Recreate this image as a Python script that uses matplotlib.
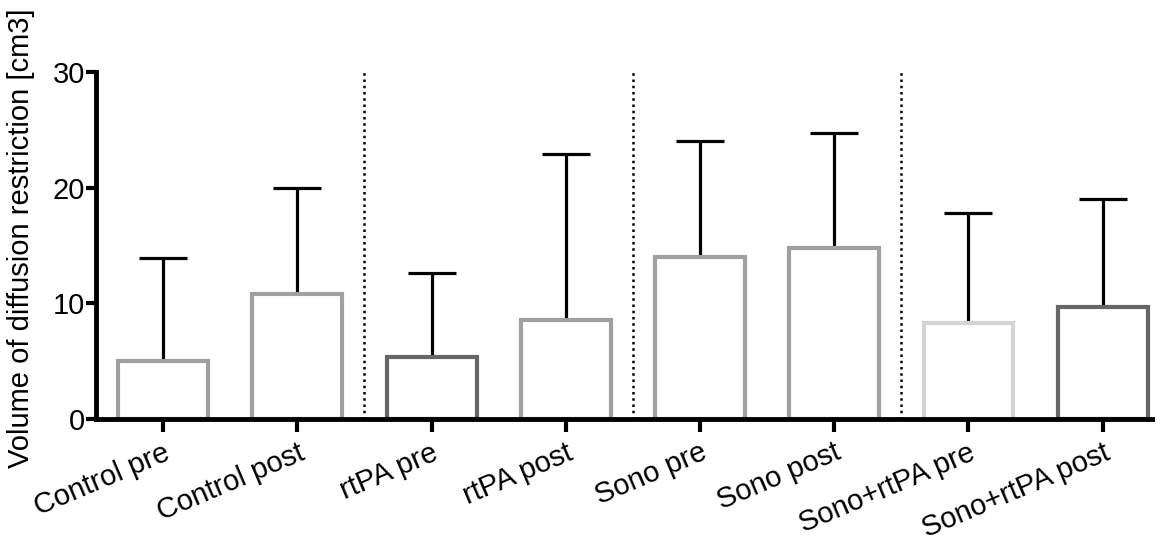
import matplotlib.pyplot as plt
import numpy as np

plt.rcParams['font.family'] = ['Liberation Sans', 'DejaVu Sans']

# --- データ ---
groups = ['Control pre', 'Control post', 'rtPA pre', 'rtPA post',
          'Sono pre', 'Sono post', 'Sono+rtPA pre', 'Sono+rtPA post']
means = [5.0, 10.8, 5.4, 8.6, 14.0, 14.8, 8.3, 9.7]
upper = [13.9, 20.0, 12.6, 22.9, 24.0, 24.7, 17.8, 19.0]
edge_colors = ['#a0a0a4', '#a0a0a4', '#666666', '#a0a0a4',
               '#a0a0a4', '#a0a0a4', '#d4d4d4', '#666666']
separators = [1.5, 3.5, 5.5]

fig = plt.figure(figsize=(11.57, 5.42), dpi=100)
ax = fig.add_axes([0.083, 0.227, 0.913, 0.64])

x = np.arange(len(groups))
err = np.array(upper) - np.array(means)

ax.bar(x, means, width=0.67, facecolor='white', edgecolor=edge_colors,
       linewidth=3.0, zorder=2)
ax.errorbar(x, means, yerr=[np.zeros_like(err), err], fmt='none',
            ecolor='black', elinewidth=2.3, capsize=17, capthick=2.3, zorder=1)

for s in separators:
    ax.plot([s, s], [0, 30], color='black', linestyle=(0, (1, 1.5)),
            linewidth=1.8, zorder=0)

ax.set_xlim(-0.5, 7.37)
ax.set_ylim(0, 30)
ax.set_yticks([0, 10, 20, 30])
ax.set_xticks(x)
ax.set_xticklabels(groups, rotation=23, ha='right', va='top',
                   rotation_mode='anchor')

for side in ['top', 'right']:
    ax.spines[side].set_visible(False)
for side in ['left', 'bottom']:
    ax.spines[side].set_linewidth(3.5)

ax.tick_params(axis='y', length=7, width=3, labelsize=21, pad=1)
ax.tick_params(axis='x', length=9, width=3, labelsize=21, pad=5)
ax.set_ylabel('Volume of diffusion restriction [cm3]', fontsize=21, labelpad=4)
ax.yaxis.set_label_coords(-0.058, 0.52)

plt.savefig('out.png', dpi=100)
